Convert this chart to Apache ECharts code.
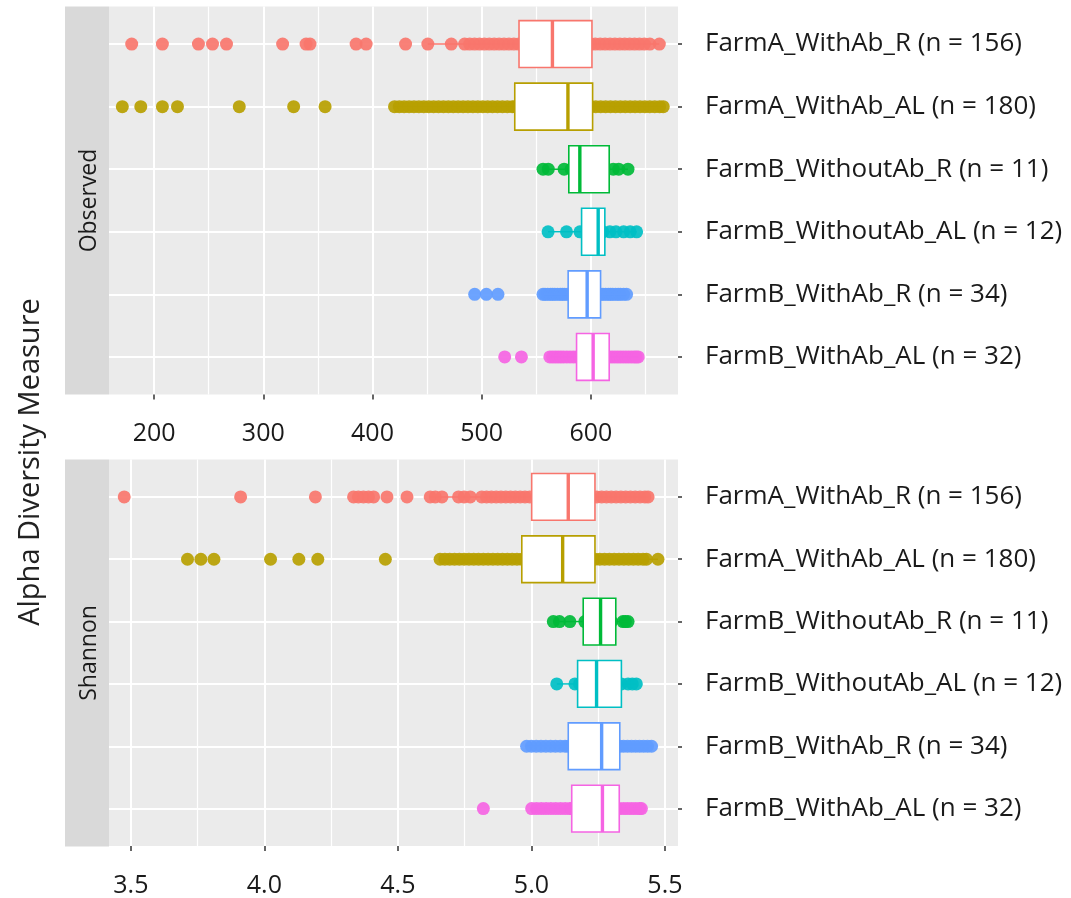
<!DOCTYPE html>
<html><head><meta charset="utf-8">
<script src="https://cdn.jsdelivr.net/npm/echarts@6/dist/echarts.min.js"></script>
<style>html,body{margin:0;padding:0;background:#fff}#c{width:1071px;height:898px}</style>
</head><body><div id="c"></div>
<script>
// ---- categories ----
const groupLabels = [
  'FarmA_WithAb_R (n = 156)',
  'FarmA_WithAb_AL (n = 180)',
  'FarmB_WithoutAb_R (n = 11)',
  'FarmB_WithoutAb_AL (n = 12)',
  'FarmB_WithAb_R (n = 34)',
  'FarmB_WithAb_AL (n = 32)'
];
const panelNames = ['Observed', 'Shannon'];
const colors = ['#F8766D', '#B79F00', '#00BA38', '#00BFC4', '#619CFF', '#F564E3'];

// ---- tick labels ----
const obsTicks = [200, 300, 400, 500, 600];
const obsMinor = [250, 350, 450, 550, 650];
const shTicks = [3.5, 4.0, 4.5, 5.0, 5.5];
const shMinor = [3.75, 4.25, 4.75, 5.25];

// ---- Observed: sample values (points) ----
const obs_A_R = [179.5, 207.6, 240.6, 253.5, 266.3, 317.7, 339.2, 342.8, 385.0, 394.2, 430.3, 450.7, 472.2,
  484.4, 489, 493.5, 498, 502.5, 507, 511.5, 516, 520.5, 525, 529.5, 534, 545, 556, 567, 578, 589, 600,
  604, 608.5, 613, 617.5, 622, 626.5, 631, 635.5, 640, 644.5, 649, 654, 662.7];
const obs_A_AL = [170.9, 187.8, 207.6, 221.4, 278.0, 327.8, 356.6,
  420.2, 424.5, 429, 433.5, 438, 442.5, 447, 451.5, 456, 460.5, 465, 469.5, 474, 478.5, 483, 487.5, 492,
  496.5, 501, 505.5, 510, 514.5, 519, 523.5, 528, 530.3, 542, 555, 568, 579, 590, 600,
  604.5, 609, 613.5, 618, 622.5, 627, 631.5, 636, 640.5, 645, 649.5, 654, 658.5, 663, 666.3];
const obs_B_WO_R = [556.2, 561, 575.5, 582, 588, 596, 605, 612, 620.5, 625.5, 634.0];
const obs_B_WO_AL = [560.8, 577.7, 590, 598, 604, 607, 611, 617.4, 623, 630, 636, 641.9];
const obs_B_W_R = [493.6, 504.3, 514.9, 556.2, 558, 560.5, 563, 565, 567, 569.5, 572, 574, 576, 578.5,
  583, 586, 588, 592, 594, 596, 600, 602, 605, 609, 611, 613.5, 616, 618, 620, 622.5, 625, 627, 630, 632.7];
const obs_B_W_AL = [521.1, 536.4, 562.4, 565, 567.5, 570, 572.5, 575, 578, 581, 584, 586.9, 590, 594, 598,
  600, 602, 606, 610, 614, 617, 619.5, 622, 624.5, 627, 629.5, 632, 634.5, 637, 639.5, 641.5, 643.4];

// ---- Shannon: sample values (points) ----
const sh_A_R = [3.475, 3.911, 4.191, 4.334, 4.352, 4.371, 4.39, 4.409, 4.459, 4.534, 4.621, 4.64, 4.665,
  4.727, 4.748, 4.771, 4.814, 4.832, 4.85, 4.868, 4.886, 4.904, 4.922, 4.94, 4.958, 4.976, 4.994,
  5.02, 5.06, 5.1, 5.14, 5.18, 5.22, 5.245, 5.263, 5.281, 5.299, 5.317, 5.335, 5.353, 5.371, 5.389,
  5.407, 5.425, 5.437];
const sh_A_AL = [3.712, 3.762, 3.811, 4.023, 4.129, 4.2, 4.453, 4.658, 4.676, 4.694, 4.712, 4.73, 4.748,
  4.766, 4.784, 4.802, 4.82, 4.838, 4.856, 4.874, 4.892, 4.91, 4.928, 4.946, 4.964, 5.0, 5.04, 5.08,
  5.12, 5.16, 5.2, 5.238, 5.256, 5.274, 5.292, 5.31, 5.328, 5.346, 5.364, 5.382, 5.4, 5.418, 5.431, 5.474];
const sh_B_WO_R = [5.082, 5.105, 5.144, 5.2, 5.23, 5.259, 5.275, 5.3, 5.343, 5.352, 5.362];
const sh_B_WO_AL = [5.095, 5.163, 5.18, 5.21, 5.24, 5.25, 5.28, 5.31, 5.337, 5.362, 5.378, 5.393];
const sh_B_W_R = [4.982, 5.0, 5.018, 5.036, 5.054, 5.072, 5.09, 5.108, 5.126, 5.138, 5.15, 5.16, 5.17,
  5.19, 5.21, 5.22, 5.23, 5.25, 5.263, 5.275, 5.28, 5.29, 5.305, 5.31, 5.32, 5.331, 5.345, 5.36, 5.375,
  5.39, 5.405, 5.42, 5.435, 5.45];
const sh_B_W_AL = [4.82, 5.001, 5.019, 5.037, 5.055, 5.073, 5.091, 5.109, 5.127, 5.145, 5.151, 5.17, 5.18,
  5.19, 5.21, 5.22, 5.23, 5.24, 5.25, 5.266, 5.28, 5.29, 5.3, 5.315, 5.32, 5.329, 5.345, 5.36, 5.375,
  5.39, 5.405, 5.412];

// ---- box statistics [lower whisker, Q1, median, Q3, upper whisker] ----
const obsStats = [
  [450.7, 534.2, 564.8, 601.0, 662.7],
  [420.2, 530.3, 579.0, 601.6, 666.3],
  [556.2, 579.8, 589.9, 616.8, 634.0],
  [560.8, 591.5, 606.7, 612.8, 641.9],
  [556.2, 579.2, 596.6, 608.9, 632.7],
  [562.4, 586.9, 602.1, 616.8, 643.4]
];
const shStats = [
  [4.621, 5.001, 5.138, 5.238, 5.437],
  [4.658, 4.964, 5.117, 5.238, 5.474],
  [5.082, 5.194, 5.259, 5.316, 5.362],
  [5.095, 5.173, 5.244, 5.337, 5.393],
  [4.982, 5.138, 5.263, 5.331, 5.45],
  [5.001, 5.151, 5.266, 5.329, 5.412]
];

const obsPoints = [obs_A_R, obs_A_AL, obs_B_WO_R, obs_B_WO_AL, obs_B_W_R, obs_B_W_AL];
const shPoints = [sh_A_R, sh_A_AL, sh_B_WO_R, sh_B_WO_AL, sh_B_W_R, sh_B_W_AL];

// ---- layout ----
const FONT = 'Open Sans';
const TXT = '#1a1a1a';
const gridL = 109, gridR = 1071 - 678;
const panels = [
  { top: 6.5, height: 388, min: 158.7, max: 679.8, ticks: obsTicks, minor: obsMinor, fmt: v => String(Math.round(v)) },
  { top: 459.5, height: 387, min: 3.418, max: 5.549, ticks: shTicks, minor: shMinor, fmt: v => v.toFixed(1) }
];

const grids = panels.map(p => ({
  left: gridL, right: gridR, top: p.top, height: p.height,
  show: true, backgroundColor: '#EBEBEB', borderWidth: 0
}));

const xAxes = [];
panels.forEach((p, gi) => {
  xAxes.push({
    type: 'value', gridIndex: gi, min: p.min, max: p.max, position: 'bottom',
    axisLine: { show: false, onZero: false },
    axisTick: { show: true, customValues: p.ticks, length: 5, lineStyle: { color: '#333', width: 1.5 } },
    axisLabel: { customValues: p.ticks, formatter: p.fmt, margin: 27, fontSize: 25, fontFamily: FONT, color: TXT },
    splitLine: { show: true, lineStyle: { color: '#FFFFFF', width: 2 } }
  });
  xAxes.push({
    type: 'value', gridIndex: gi, min: p.min, max: p.max, position: 'top',
    axisLine: { show: false, onZero: false },
    axisTick: { show: false, customValues: p.minor },
    axisLabel: { show: false, customValues: p.minor },
    splitLine: { show: true, lineStyle: { color: '#FFFFFF', width: 1.2 } }
  });
});

const catIdx = groupLabels.map((_, i) => i);
const yAxes = panels.map((p, gi) => ({
  type: 'value', gridIndex: gi, min: -0.6, max: 5.6, inverse: true, position: 'right',
  axisLine: { show: false, onZero: false },
  axisTick: { show: true, customValues: catIdx, length: 4, lineStyle: { color: '#333', width: 1.5 } },
  axisLabel: { customValues: catIdx, formatter: v => groupLabels[Math.round(v)], margin: 27,
    fontSize: 26, fontFamily: FONT, color: TXT },
  splitLine: { show: true, lineStyle: { color: '#FFFFFF', width: 2 } }
}));

function scatterSeries(gi, arrays) {
  const data = [];
  arrays.forEach((arr, ci) => arr.forEach(v => data.push([v, ci])));
  return {
    type: 'scatter', xAxisIndex: gi * 2, yAxisIndex: gi, data, symbolSize: 13, silent: true, z: 2,
    itemStyle: { color: p => colors[p.data[1]], opacity: 0.92 }
  };
}

function boxSeries(gi, stats) {
  return {
    type: 'custom', xAxisIndex: gi * 2, yAxisIndex: gi, z: 5, silent: true,
    data: stats.map((s, ci) => s.concat([ci])),
    encode: { x: [0, 1, 2, 3, 4], y: 5 },
    renderItem: (params, api) => {
      const ci = api.value(5);
      const c = colors[ci];
      const lo = api.coord([api.value(0), ci]);
      const q1 = api.coord([api.value(1), ci]);
      const md = api.coord([api.value(2), ci]);
      const q3 = api.coord([api.value(3), ci]);
      const hi = api.coord([api.value(4), ci]);
      const h = api.size([0, 0.75])[1];
      return {
        type: 'group', children: [
          { type: 'line', shape: { x1: lo[0], y1: lo[1], x2: q1[0], y2: q1[1] }, style: { stroke: c, lineWidth: 1.5 } },
          { type: 'line', shape: { x1: q3[0], y1: q3[1], x2: hi[0], y2: hi[1] }, style: { stroke: c, lineWidth: 1.5 } },
          { type: 'rect', shape: { x: q1[0], y: q1[1] - h / 2, width: q3[0] - q1[0], height: h },
            style: { fill: '#FFFFFF', stroke: c, lineWidth: 1.6 } },
          { type: 'line', shape: { x1: md[0], y1: md[1] - h / 2, x2: md[0], y2: md[1] + h / 2 },
            style: { stroke: c, lineWidth: 3.4 } }
        ]
      };
    }
  };
}

const graphic = [];
panels.forEach((p, gi) => {
  graphic.push({ type: 'rect', shape: { x: 65, y: p.top, width: gridL - 65, height: p.height },
    style: { fill: '#D9D9D9' }, silent: true });
  graphic.push({ type: 'text', x: 89, y: p.top + p.height / 2, rotation: Math.PI / 2,
    style: { text: panelNames[gi], fontSize: 23, fontFamily: FONT, fill: TXT, align: 'center', verticalAlign: 'middle' } });
});
graphic.push({ type: 'text', x: 31, y: 462, rotation: Math.PI / 2,
  style: { text: 'Alpha Diversity Measure', fontSize: 29, fontFamily: FONT, fill: '#222', align: 'center', verticalAlign: 'middle' } });

const chart = echarts.init(document.getElementById('c'), null, { renderer: 'canvas' });
chart.setOption({
  animation: false,
  backgroundColor: '#FFFFFF',
  grid: grids,
  xAxis: xAxes,
  yAxis: yAxes,
  graphic,
  series: [
    scatterSeries(0, obsPoints), boxSeries(0, obsStats),
    scatterSeries(1, shPoints), boxSeries(1, shStats)
  ]
});
</script>
</body></html>
